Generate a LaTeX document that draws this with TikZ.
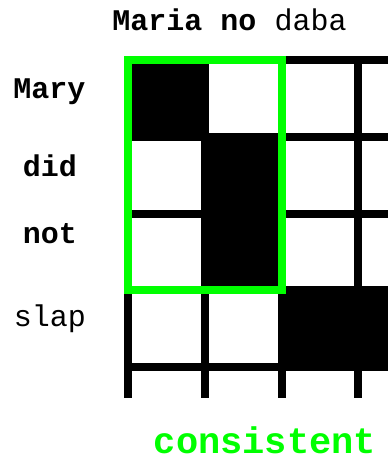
\documentclass[tikz,border=0pt]{standalone}
\usepackage{fontspec}
\setmonofont{Liberation Mono}
\definecolor{okgreen}{RGB}{0,255,0}
\begin{document}
\begin{tikzpicture}[x=1pt,y=-1pt,
  lab/.style={font=\fontsize{30}{30}\selectfont\ttfamily, anchor=base, inner sep=0pt},
  gridline/.style={line width=8pt, black},
  cellfill/.style={fill=black},
  highlight/.style={draw=okgreen, line width=8pt}]
\useasboundingbox (0,0) rectangle (388,461);
\fill[white] (0,0) rectangle (388,461);
\begin{scope}
  \clip (0,0) rectangle (388,461);
  % black cells
  \fill[cellfill] (128,60) rectangle (204.8,136.8);
  \fill[cellfill] (204.8,136.8) rectangle (281.6,213.6);
  \fill[cellfill] (204.8,213.6) rectangle (281.6,290.4);
  \fill[cellfill] (281.6,290.4) rectangle (400,367.2);
  % grid lines
  \foreach \gx in {128,204.8,281.6,358.4}
    \draw[gridline] (\gx,60) -- (\gx,398);
  \foreach \gy in {60,136.8,213.6,290.4,367.2}
    \draw[gridline] (124,\gy) -- (400,\gy);
\end{scope}
% highlight
\draw[highlight] (128,60) rectangle (281.6,290.4);
% labels
\node[lab] (top) at (229.5,30) {\textbf{Maria no} daba};
\node[lab] (mary) at (49.5,98.3) {\textbf{Mary}};
\node[lab] (did) at (50,176) {\textbf{did}};
\node[lab] (not) at (50,243.7) {\textbf{not}};
\node[lab] (slap) at (50,326.7) {slap};
\node[lab, font=\fontsize{37}{37}\selectfont\ttfamily\bfseries, text=okgreen] (cons) at (265,453.5) {consistent};
\end{tikzpicture}
\end{document}
